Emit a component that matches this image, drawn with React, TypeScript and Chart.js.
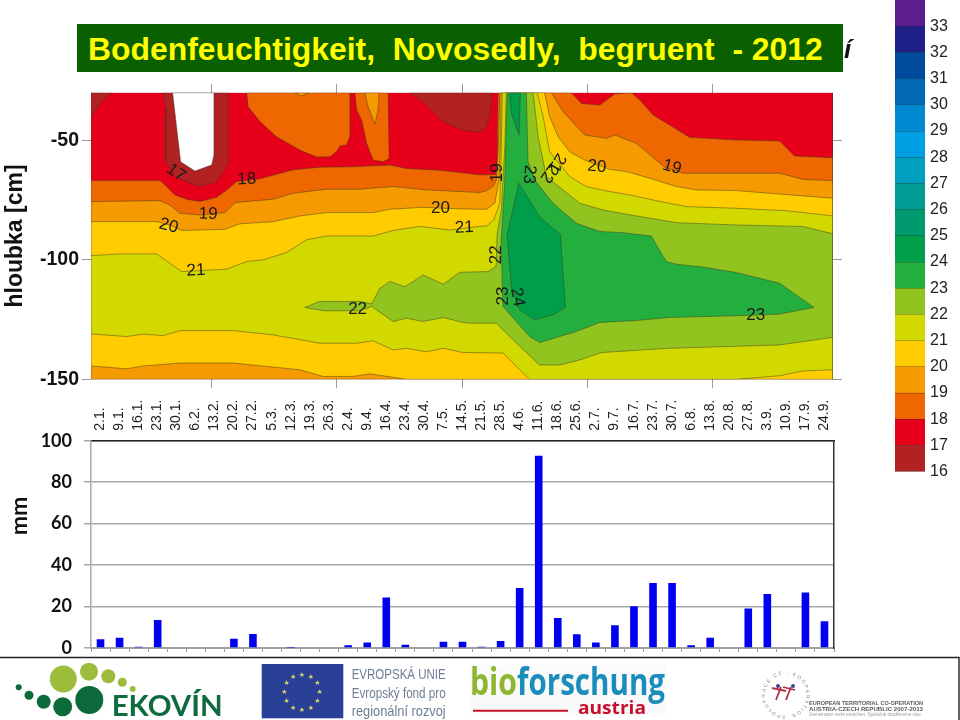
import React, { useEffect, useRef } from "react";
import { Chart, registerables } from "chart.js";

Chart.register(...registerables);

// ---------- Rain chart ----------
const weekLabels = ["2.1.", "9.1.", "16.1.", "23.1.", "30.1.", "6.2.", "13.2.", "20.2.", "27.2.", "5.3.", "12.3.", "19.3.", "26.3.", "2.4.", "9.4.", "16.4.", "23.4.", "30.4.", "7.5.", "14.5.", "21.5.", "28.5.", "4.6.", "11.6.", "18.6.", "25.6.", "2.7.", "9.7.", "16.7.", "23.7.", "30.7.", "6.8.", "13.8.", "20.8.", "27.8.", "3.9.", "10.9.", "17.9.", "24.9."];
const rainMm = [4.2, 5, 0.6, 13.5, 0, 0, 0, 4.5, 6.7, 0, 0.1, 0, 0, 1.3, 2.7, 24.4, 1.6, 0, 3, 3, 0.6, 3.4, 29, 92.8, 14.5, 6.6, 2.7, 11, 20.2, 31.3, 31.3, 1.3, 5, 0, 19.1, 26, 0, 26.8, 12.9];

// ---------- Soil moisture isolines: [day, depth in cm] ----------
const below18 = [[1.8, -30], [298.2, -30], [298.2, -150], [1.8, -150]];
const below17Corner = [[1.8, -30], [10.1, -30], [6.7, -33], [1.8, -40]];
const below17Winter = [[30.7, -30], [31.7, -37.2], [31.7, -58.9], [35.3, -65.1], [44.7, -69.3], [52, -67.2], [56.6, -59.6], [56.6, -30]];
const below16Winter = [[34.4, -30], [37.6, -58.9], [43.3, -62.8], [50, -60.3], [50.9, -56.1], [50.9, -30]];
const below17Spring = [[129.2, -30], [134.5, -33.8], [142.5, -42.1], [150.4, -45.6], [157.1, -46.6], [159.1, -44.9], [161.1, -40], [162.1, -30]];
const above18IslandA = [[64, -30], [64.6, -35.9], [69.3, -42.1], [75.9, -48.4], [85.2, -54], [91.9, -56.9], [97.2, -56.8], [99.9, -54.7], [101.2, -52.3], [103.9, -51.9], [105.2, -48.4], [105.2, -30]];
const above19IslandA = [[83.3, -30], [85.9, -31.4], [88.6, -30]];
const above18IslandB = [[107.2, -30], [107.9, -37.2], [109.9, -41.4], [111.9, -51.2], [114.5, -58.2], [118.5, -58.9], [120.9, -57.5], [120.5, -30]];
const above19IslandB = [[111.2, -30], [112.5, -35.9], [115.2, -43.1], [116.5, -37.2], [116.9, -30]];
const above18 = [[1.8, -66.8], [29.4, -66.8], [32, -69.3], [35.3, -72.8], [40, -74.6], [45.3, -75.6], [52, -73.8], [56, -70.7], [60, -67.2], [69.3, -66], [82.6, -62.3], [93.2, -61.2], [106.5, -61], [121.2, -60.3], [127.8, -61.7], [142.5, -62.6], [157.1, -64.4], [163.5, -64.2], [164, -59.6], [164.1, -45.6], [164.4, -30], [193.7, -30], [197.7, -34.5], [205, -35.2], [211, -30.5], [217.6, -30], [221, -33], [226.3, -39.3], [232.9, -43.5], [240.9, -48.7], [259.6, -49.8], [276.9, -50.2], [282.8, -56.5], [298.2, -57.2], [298.2, -150], [1.8, -150]];
const above19 = [[1.8, -75.6], [29.4, -75.2], [33.3, -77], [37.3, -80.5], [45.3, -81.2], [55.3, -80.2], [59.3, -76], [74.6, -74.6], [82.6, -72.1], [95.9, -70.4], [109.2, -70.4], [122.5, -69.3], [135.8, -70.7], [157.1, -71.8], [159.8, -71], [162.7, -69], [163.7, -66.5], [164.5, -52.6], [165.1, -30], [185.7, -30], [190.4, -38], [199, -47.7], [207.7, -49.1], [211, -47.7], [219.6, -51.2], [231, -61.2], [238.3, -63.7], [259.6, -63.7], [276.9, -63.7], [286.2, -66.3], [298.2, -66.8], [298.2, -150], [1.8, -150]];
const above20 = [[1.8, -84], [28, -84], [33.3, -85.4], [38, -87.7], [55.3, -87.2], [61.3, -84.9], [74.6, -84], [85.2, -81.6], [95.9, -80.2], [114.5, -80.2], [121.2, -78.8], [134.5, -78], [142.5, -78.4], [157.1, -78.8], [159.8, -78.8], [163.1, -76.3], [164.8, -66.5], [165.3, -52.6], [165.7, -30], [183, -30], [185, -40], [188.4, -48.4], [193, -54.7], [199, -58.2], [209, -62.1], [215.6, -63], [225, -65.8], [235.6, -69.3], [243.6, -70.7], [259.6, -71], [286.2, -73.2], [298.2, -74.2], [298.2, -150], [127.8, -150], [113.2, -147.7], [106.5, -148.8], [94.6, -148.8], [85.2, -146], [74.6, -144.9], [58.6, -143.2], [37.3, -143.2], [22.7, -144.4], [16, -145.6], [1.8, -144.4]];
const above21 = [[1.8, -98.2], [13.4, -97.5], [28, -97.5], [33.3, -101.4], [38, -104.9], [56, -103.9], [64, -100.7], [70.6, -100], [79.9, -96.9], [87.9, -91.6], [95.9, -90], [114.5, -90], [122.5, -87.7], [133.1, -86], [145.1, -87.5], [157.1, -86], [159.8, -85.8], [162.7, -83.3], [165.1, -76.3], [165.7, -52.6], [166.1, -30], [180, -30], [182.4, -40], [185, -54.7], [193, -65.1], [199.7, -69.3], [209, -71.4], [217, -72.8], [227.6, -75.2], [239.6, -77.7], [259.6, -78.4], [279.5, -79.4], [298.2, -81.6], [298.2, -146], [286.2, -146.5], [276.9, -148.5], [259.6, -150], [177, -150], [166.4, -139], [153.1, -138.8], [150.4, -138.8], [142.5, -137], [135.8, -138.5], [127.8, -137], [122.5, -137.7], [114.5, -133.9], [107.9, -134.9], [93.2, -134.9], [74.6, -131.4], [58.6, -129.6], [37.3, -129.6], [30.7, -131.7], [22.7, -131.1], [16, -132.1], [1.8, -131]];
const above22 = [[87.2, -119.9], [93.2, -117.4], [109.2, -117.4], [113.9, -118.4], [117.2, -111.9], [121.2, -109], [127.2, -111.2], [134.5, -106.3], [142.5, -110.2], [149.1, -105.2], [157.1, -105], [160.4, -104.9], [163.5, -102.8], [163.7, -101.4], [164, -89.5], [165.7, -79.1], [167.1, -52.6], [167.7, -30], [178.4, -30], [180.4, -48.4], [183.7, -65.1], [187, -67.9], [197, -76.3], [206.3, -79.1], [219.6, -81.6], [235.6, -84.4], [259.6, -85.4], [286.2, -86], [298.2, -89.1], [298.2, -132.4], [286.2, -134.2], [276.9, -135.6], [232.9, -137], [205.7, -138.8], [197, -141.9], [189, -144], [181, -144], [170.4, -133.5], [163.7, -126.5], [153.1, -126.5], [150.4, -126.2], [142.5, -124.1], [134.5, -125.8], [127.8, -124.4], [122.5, -125.8], [113.9, -119.5], [109.2, -121.3], [94.6, -121.3]];
const above23 = [[168.1, -30], [175.7, -30], [176.4, -58.9], [179, -66.5], [186.4, -76.3], [195.7, -84.7], [205, -88.1], [214.3, -88.6], [225.6, -90], [231.6, -100.7], [235.6, -101.8], [246.2, -103], [259.6, -105.3], [276.9, -109.8], [290.6, -119.9], [276.9, -122.7], [259.6, -123.4], [232.9, -124.1], [219.6, -125.4], [205, -126.2], [195.7, -130], [181, -134.6], [177, -132.1], [166.4, -119.5], [166, -108.4], [165.7, -91.6], [167.1, -66.5]];
const above24Top = [[169, -30], [173.3, -30], [172.8, -47.7], [169.7, -38.6]];
const above24Body = [[172.7, -67.9], [181, -81.9], [189.3, -89.5], [191.3, -119.9], [186.4, -123], [179, -125.1], [173.1, -120.9], [169.7, -111.2], [168, -89.5]];

const contourLabelTexts = ["17", "18", "19", "20", "21", "22", "20", "21", "19", "22", "23", "24", "23", "22", "21", "20", "19", "23"];
const contourLabelDays = [35.7, 64, 48.6, 32.8, 43.7, 108.3, 141.4, 150.9, 164, 163.7, 166.4, 172.1, 176.8, 184.8, 188, 203.9, 233.9, 267.3];
const contourLabelDepths = [-63.5, -66.3, -80.8, -85.8, -104.5, -120.9, -78.4, -86.5, -63.5, -97.9, -115.1, -115.6, -64.2, -63.7, -59.3, -61, -61.2, -123];
const contourLabelAngles = [35, -3, 2, 15, -3, 0, 0, -2, -90, -90, -90, 80, 95, 125, 120, 5, 15, 0];

// ---------- Colour scale ----------
const scaleLevels = [16, 17, 18, 19, 20, 21, 22, 23, 24, 25, 26, 27, 28, 29, 30, 31, 32, 33];
const scaleColours = ["#B22222", "#E60019", "#EE6700", "#F59A00", "#FFCC00", "#D2D900", "#92C41F", "#24AE3E", "#009E48", "#009A6E", "#009C95", "#009FC0", "#009FE3", "#0088D0", "#0068B4", "#004B9C", "#1F1F88", "#5B1E8C"];

const colourOf = (level: number) => scaleColours[scaleLevels.indexOf(level)];

const contourLayers: [number[][], string][] = [
  [below18, colourOf(17)],
  [below17Corner, colourOf(16)],
  [below17Winter, colourOf(16)],
  [below16Winter, "#FFFFFF"],
  [below17Spring, colourOf(16)],
  [above18IslandA, colourOf(18)],
  [above19IslandA, colourOf(19)],
  [above18IslandB, colourOf(18)],
  [above19IslandB, colourOf(19)],
  [above18, colourOf(18)],
  [above19, colourOf(19)],
  [above20, colourOf(20)],
  [above21, colourOf(21)],
  [above22, colourOf(22)],
  [above23, colourOf(23)],
  [above24Top, colourOf(24)],
  [above24Body, colourOf(24)],
];

const ARIAL = '"Liberation Sans", Arial, sans-serif';
const LATO = 'Lato, sans-serif';

const labelPlugin = {
  id: "contourLabels",
  afterDatasetsDraw(chart: any) {
    const { ctx, scales } = chart;
    ctx.save();
    ctx.font = `17px ${ARIAL}`;
    ctx.fillStyle = "#1a1a1a";
    ctx.textAlign = "center";
    ctx.textBaseline = "middle";
    contourLabelTexts.forEach((t, i) => {
      ctx.save();
      ctx.translate(scales.x.getPixelForValue(contourLabelDays[i]), scales.y.getPixelForValue(contourLabelDepths[i]));
      ctx.rotate((contourLabelAngles[i] * Math.PI) / 180);
      ctx.fillText(t, 0, 0);
      ctx.restore();
    });
    ctx.restore();
  },
};

function useChart(make: (c: HTMLCanvasElement) => Chart) {
  const ref = useRef<HTMLCanvasElement>(null);
  useEffect(() => {
    const chart = make(ref.current!);
    return () => chart.destroy();
  }, []);
  return ref;
}

const tickOnly = { drawOnChartArea: false, drawTicks: true, tickLength: 9, color: "#9a9a9a", tickColor: "#9a9a9a", tickWidth: 1 };

function makeContour(c: HTMLCanvasElement) {
  const n = contourLayers.length;
  const xAxis = { type: "linear", min: 1.8, max: 298.2, ticks: { display: false, stepSize: 50, includeBounds: false }, grid: tickOnly, border: { display: false } };
  const yAxis = { type: "linear", min: -150, max: -30, border: { display: false }, grid: tickOnly };
  return new Chart(c, {
    type: "scatter",
    data: {
      datasets: contourLayers.map(([pts, colour], i) => ({
        data: [...pts, pts[0]].map(([x, y]) => ({ x, y })),
        showLine: true,
        fill: "shape",
        order: n - i,
        backgroundColor: colour,
        borderColor: "rgba(55,55,40,0.65)",
        borderWidth: 0.7,
        pointRadius: 0,
        tension: 0,
      })),
    },
    options: {
      responsive: false,
      animation: false,
      events: [],
      layout: { padding: 0 },
      plugins: { legend: { display: false }, tooltip: { enabled: false } },
      scales: {
        x: { ...xAxis, position: "bottom", afterFit: (s: any) => { s.height = 30.7; } },
        x2: { ...xAxis, position: "top", afterFit: (s: any) => { s.height = 92.7; } },
        y: {
          ...yAxis,
          position: "left",
          afterFit: (s: any) => { s.width = 91; },
          ticks: { stepSize: 50, includeBounds: false, padding: 3, color: "#111", font: { family: ARIAL, size: 19.5, weight: "bold" } },
        },
        y2: { ...yAxis, position: "right", afterFit: (s: any) => { s.width = 27; }, ticks: { display: false, stepSize: 50, includeBounds: false } },
      },
    } as any,
    plugins: [labelPlugin],
  } as any);
}

function makeRain(c: HTMLCanvasElement) {
  return new Chart(c, {
    type: "bar",
    data: {
      labels: weekLabels,
      datasets: [{ data: rainMm, backgroundColor: "#0000F0", barPercentage: 0.4, categoryPercentage: 1 }],
    },
    options: {
      responsive: false,
      animation: false,
      events: [],
      layout: { padding: { right: 26 } },
      plugins: { legend: { display: false }, tooltip: { enabled: false } },
      scales: {
        x: {
          position: "bottom",
          afterFit: (s: any) => { s.height = 30; },
          ticks: { display: false },
          grid: { drawOnChartArea: false, tickLength: 4, tickColor: "#9a9a9a", offset: true },
          border: { color: "#a0a0a0", width: 2 },
        },
        x2: {
          type: "category",
          labels: weekLabels,
          position: "top",
          offset: true,
          afterFit: (s: any) => { s.height = 50.7; },
          ticks: { autoSkip: false, minRotation: 90, maxRotation: 90, padding: 2, labelOffset: 16.5, color: "#222", font: { family: ARIAL, size: 14 } },
          grid: { display: false },
          border: { color: "#222", width: 1.5 },
        },
        y: {
          min: 0,
          max: 100,
          position: "left",
          afterFit: (s: any) => { s.width = 91; },
          ticks: { stepSize: 20, padding: 12, color: "#111", font: { family: LATO, size: 18, weight: "bold" } },
          grid: { color: "#a8a8a8", lineWidth: 1.5, tickColor: "#a8a8a8", tickLength: 7 },
          border: { color: "#a8a8a8", width: 1.5 },
        },
        y2: {
          min: 0,
          max: 100,
          position: "right",
          afterFit: (s: any) => { s.width = 0; },
          ticks: { display: false },
          grid: { display: false },
          border: { color: "#333", width: 1.5 },
        },
      },
    } as any,
  } as any);
}

function makeScale(c: HTMLCanvasElement) {
  return new Chart(c, {
    type: "bar",
    data: {
      labels: [""],
      datasets: scaleLevels.map((_, i) => ({ data: [1], backgroundColor: scaleColours[i], barPercentage: 1, categoryPercentage: 1, stack: "s" })),
    },
    options: {
      responsive: false,
      animation: false,
      events: [],
      layout: { padding: { left: 15, bottom: 30.3, top: 30, right: 0 } },
      plugins: { legend: { display: false }, tooltip: { enabled: false } },
      scales: {
        x: { display: false, stacked: true },
        y: {
          stacked: true,
          position: "right",
          min: 0,
          max: 18,
          afterFit: (s: any) => { s.width = 35; },
          afterBuildTicks: (s: any) => { s.ticks = s.ticks.filter((t: any) => t.value < 18); },
          ticks: { stepSize: 1, padding: 5, color: "#222", font: { family: ARIAL, size: 16 }, callback: (v: number) => String(scaleLevels[v]) },
          grid: { drawTicks: false, color: "rgba(40,40,40,0.3)", z: 1 },
          border: { display: false },
        },
      },
    } as any,
  } as any);
}

const euStars = Array.from({ length: 12 }, (_, i) => i);

function Footer() {
  return (
    <svg width={960} height={720} style={{ position: "absolute", left: 0, top: 0 }}>
      <path d="M0 657.5H959V720" fill="none" stroke="#222" strokeWidth={1.4} />
      {/* EKOVIN */}
      <g fill="#9DBC3C">
        <circle cx={63.3} cy={679} r={13.5} />
        <circle cx={89} cy={671.7} r={9} />
        <circle cx={108.3} cy={676.3} r={7} />
        <circle cx={122.3} cy={682.3} r={4.5} />
        <circle cx={132.7} cy={689} r={3} />
      </g>
      <g fill="#0D6B3B">
        <circle cx={18.7} cy={687.3} r={3} />
        <circle cx={29} cy={695.3} r={4.5} />
        <circle cx={43.7} cy={701.7} r={7} />
        <circle cx={62.7} cy={706.7} r={9.5} />
        <circle cx={89.3} cy={700} r={14} />
      </g>
      <text x={111.7} y={716} fontFamily={LATO} fontWeight={700} fontSize={28} fill="#0E6B3E" textLength={111} lengthAdjust="spacingAndGlyphs">EKOVÍN</text>
      {/* EU */}
      <rect x={261.7} y={664} width={81.6} height={54.3} fill="#2A3F96" />
      {euStars.map((i) => (
        <text key={i} x={302 + 17.7 * Math.sin((i * Math.PI) / 6)} y={691.7 - 17.7 * Math.cos((i * Math.PI) / 6) + 2.5} textAnchor="middle" fontSize={7} fontFamily="DejaVu Sans" fill="#DADA66">★</text>
      ))}
      <g fontFamily={ARIAL} fill="#6E7E94" fontSize={15}>
        <text x={351.7} y={679} textLength={94} lengthAdjust="spacingAndGlyphs">EVROPSKÁ UNIE</text>
        <text x={351.7} y={698} textLength={94} lengthAdjust="spacingAndGlyphs">Evropský fond pro</text>
        <text x={351.7} y={716} textLength={94} lengthAdjust="spacingAndGlyphs">regionální rozvoj</text>
      </g>
      {/* bioforschung */}
      <rect x={470} y={665} width={196} height={50} fill="#FAFAFA" />
      <text x={470} y={695} fontFamily="Open Sans" fontWeight={700} fontSize={37} fill="#8DB82D" textLength={47} lengthAdjust="spacingAndGlyphs">bio</text>
      <text x={517} y={695} fontFamily="Open Sans" fontWeight={700} fontSize={37} fill="#1B8DBC" textLength={148} lengthAdjust="spacingAndGlyphs">forschung</text>
      <line x1={473} x2={568} y1={710.7} y2={710.7} stroke="#C8102E" strokeWidth={2} />
      <text x={578} y={714} fontFamily="Open Sans" fontWeight={700} fontSize={18} fill="#C8102E" textLength={68} lengthAdjust="spacingAndGlyphs">austria</text>
      {/* INTERREG */}
      <defs>
        <path id="ring" d="M785.7 715.5a20.5 20.5 0 1 1 0.01 0" />
      </defs>
      <text fontFamily={ARIAL} fontSize={5} fill="#8A8A8A" letterSpacing={1.5}>
        <textPath href="#ring">SPOLUPRÁCE CZ - KOOPERATION AT</textPath>
      </text>
      <path d="M776 700l5-13M772 688l14 3M786 700l5-13M783 687l12 3" stroke="#B0304A" strokeWidth={1.8} fill="none" />
      <circle cx={778} cy={686} r={2} fill="#3A4A8A" />
      <circle cx={793} cy={686} r={2} fill="#3A4A8A" />
      <g fontFamily={ARIAL} fontSize={5.3} fontWeight={700} fill="#5A5A5A">
        <text x={809} y={705} textLength={114} lengthAdjust="spacingAndGlyphs">EUROPEAN TERRITORIAL CO-OPERATION</text>
        <text x={809} y={710.5} textLength={114} lengthAdjust="spacingAndGlyphs">AUSTRIA-CZECH REPUBLIC 2007-2013</text>
      </g>
      <text x={809} y={716} fontFamily={ARIAL} fontSize={4.8} fill="#999" textLength={113} lengthAdjust="spacingAndGlyphs">Gemeinsam mehr erreichen. Společně dosáhneme více.</text>
    </svg>
  );
}

export default function App() {
  const contourRef = useChart(makeContour);
  const rainRef = useChart(makeRain);
  const scaleRef = useChart(makeScale);
  return (
    <div style={{ position: "fixed", left: 0, top: 0, width: 960, height: 720, overflow: "hidden", background: "#fff" }}>
      <canvas ref={contourRef} width={860} height={410} style={{ position: "absolute", left: 0, top: 0 }} />
      <canvas ref={rainRef} width={860} height={288} style={{ position: "absolute", left: 0, top: 390 }} />
      <canvas ref={scaleRef} width={80} height={532} style={{ position: "absolute", left: 880, top: -30 }} />
      <div style={{ position: "absolute", left: 77, top: 24, width: 766, height: 48, background: "#0A6000", color: "#FFFF00", fontFamily: ARIAL, fontWeight: 700, fontSize: 31.9, lineHeight: "50px", whiteSpace: "pre", paddingLeft: 11, boxSizing: "border-box" }}>
        {"Bodenfeuchtigkeit,  Novosedly,  begruent  - 2012"}
      </div>
      <div style={{ position: "absolute", left: 844, top: 34, fontFamily: ARIAL, fontWeight: 700, fontStyle: "italic", fontSize: 26, color: "#111" }}>í</div>
      <div style={{ position: "absolute", left: 14, top: 236, transform: "translate(-50%,-50%) rotate(-90deg)", fontFamily: ARIAL, fontWeight: 700, fontSize: 23, whiteSpace: "nowrap", color: "#111" }}>hloubka [cm]</div>
      <div style={{ position: "absolute", left: 18, top: 516, transform: "translate(-50%,-50%) rotate(-90deg)", fontFamily: LATO, fontWeight: 700, fontSize: 23, whiteSpace: "nowrap", color: "#111" }}>mm</div>
      <Footer />
    </div>
  );
}
